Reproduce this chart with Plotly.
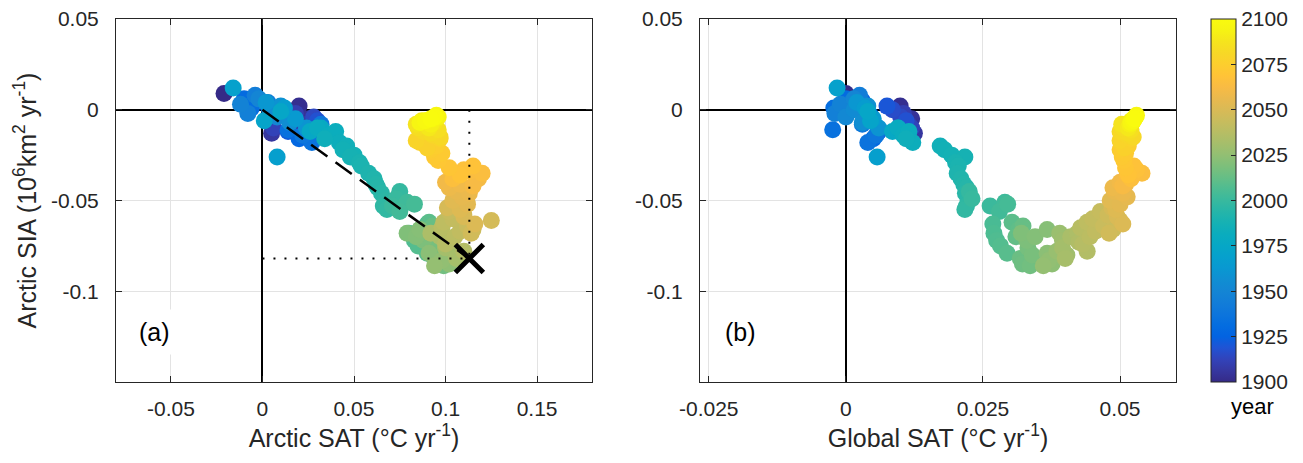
import plotly.graph_objects as go

# ---------------- data ----------------
years = [1900, 1902, 1904, 1906, 1908, 1910, 1912, 1914, 1916, 1918,
         1920, 1922, 1924, 1926, 1928, 1930, 1932, 1934, 1936, 1938,
         1940, 1942, 1944, 1946, 1948, 1950, 1952, 1954, 1956, 1958,
         1960, 1962, 1964, 1966, 1968, 1970, 1972, 1974, 1976, 1978,
         1980, 1981, 1982, 1983, 1984, 1985, 1986, 1987, 1988, 1989,
         1990, 1991, 1992, 1993, 1994, 1995, 1996, 1997, 1998, 1999,
         2000, 2001, 2002, 2003, 2004, 2005, 2006, 2007, 2008, 2009,
         2010, 2011, 2012, 2013, 2014, 2015, 2016, 2017, 2018, 2019,
         2020, 2021, 2022, 2023, 2024, 2025, 2026, 2027, 2028, 2029,
         2030, 2031, 2032, 2033, 2034, 2035, 2036, 2037, 2038, 2039,
         2040, 2041, 2042, 2043, 2044, 2045, 2046, 2047, 2048, 2049,
         2050, 2051, 2052, 2053, 2054, 2055, 2056, 2057, 2058, 2059,
         2060, 2061, 2062, 2063, 2064, 2065, 2066, 2067, 2068, 2069,
         2070, 2071, 2072, 2073, 2074, 2075, 2076, 2077, 2078, 2079,
         2080, 2081, 2082, 2083, 2084, 2085, 2086, 2087, 2088, 2089,
         2090, 2091, 2092, 2093, 2094, 2095, 2096, 2097, 2098, 2099,
         2100]

# Arctic sea-ice-area trend (10^6 km^2 / yr)
arctic_sia = [0.009, 0.002, -0.005, -0.013, -0.008, -0.002, -0.010, -0.004, 0.000, -0.006,
              0.002, -0.012, 0.005, -0.003, -0.016, 0.006, 0.001, -0.011, -0.018, -0.014,
              -0.008, 0.004, 0.008, -0.002, 0.003, 0.006, -0.004, 0.000, -0.007, 0.002,
              -0.010, 0.004, -0.005, 0.001, -0.026, 0.012, -0.006, -0.001, -0.012, -0.010,
              -0.010, -0.014, -0.012, -0.018, -0.016, -0.020, -0.022, -0.025, -0.026, -0.029,
              -0.031, -0.035, -0.038, -0.041, -0.043, -0.046, -0.050, -0.053, -0.055, -0.045,
              -0.049, -0.053, -0.051, -0.056, -0.052, -0.063, -0.068, -0.072, -0.075, -0.079,
              -0.062, -0.066, -0.070, -0.064, -0.082, -0.085, -0.086, -0.076, -0.080, -0.072,
              -0.068, -0.070, -0.066, -0.079, -0.085, -0.083, -0.086, -0.078, -0.068, -0.072,
              -0.080, -0.076, -0.082, -0.070, -0.068, -0.073, -0.078, -0.074, -0.065, -0.070,
              -0.062, -0.067, -0.060, -0.056, -0.064, -0.066, -0.058, -0.068, -0.061, -0.054,
              -0.059, -0.063, -0.055, -0.050, -0.052, -0.048, -0.045, -0.046, -0.043, -0.041,
              -0.040, -0.038, -0.042, -0.036, -0.034, -0.035, -0.038, -0.033, -0.031, -0.036,
              -0.032, -0.028, -0.026, -0.024, -0.022, -0.020, -0.018, -0.021, -0.016, -0.017,
              -0.014, -0.015, -0.012, -0.013, -0.010, -0.011, -0.009, -0.008, -0.007, -0.010,
              -0.006, -0.005, -0.008, -0.006, -0.004, -0.007, -0.005, -0.003, -0.006, -0.004,
              -0.005]

# Arctic surface-air-temperature trend (degC / yr)
arctic_sat = [-0.021, 0.020, 0.025, 0.005, 0.022, 0.018, 0.006, 0.028, 0.012, 0.030,
              0.003, 0.014, -0.008, 0.008, 0.020, -0.010, -0.006, 0.014, 0.027, 0.022,
              0.032, 0.003, -0.004, -0.008, -0.012, -0.002, 0.008, 0.004, 0.015, 0.010,
              0.024, 0.002, 0.018, 0.012, 0.008, -0.016, 0.001, 0.010, 0.026, 0.032,
              0.030, 0.036, 0.040, 0.042, 0.034, 0.046, 0.044, 0.050, 0.048, 0.053,
              0.054, 0.058, 0.061, 0.062, 0.063, 0.065, 0.067, 0.066, 0.068, 0.075,
              0.073, 0.071, 0.079, 0.075, 0.083, 0.090, 0.080, 0.083, 0.085, 0.090,
              0.091, 0.086, 0.089, 0.093, 0.094, 0.096, 0.099, 0.092, 0.097, 0.088,
              0.079, 0.084, 0.086, 0.091, 0.102, 0.098, 0.094, 0.104, 0.095, 0.100,
              0.108, 0.100, 0.106, 0.097, 0.092, 0.102, 0.110, 0.100, 0.098, 0.105,
              0.099, 0.108, 0.104, 0.102, 0.112, 0.115, 0.110, 0.114, 0.125, 0.101,
              0.110, 0.116, 0.108, 0.104, 0.112, 0.109, 0.106, 0.113, 0.102, 0.108,
              0.100, 0.118, 0.115, 0.106, 0.113, 0.120, 0.104, 0.110, 0.115, 0.108,
              0.102, 0.096, 0.094, 0.098, 0.092, 0.095, 0.086, 0.090, 0.097, 0.084,
              0.093, 0.097, 0.088, 0.092, 0.085, 0.096, 0.089, 0.084, 0.094, 0.091,
              0.087, 0.095, 0.092, 0.090, 0.096, 0.086, 0.093, 0.095, 0.089, 0.094,
              0.092]

# Global surface-air-temperature trend (degC / yr)
global_sat = [0.0000, 0.0099, 0.0120, 0.0125, 0.0115, 0.0105, 0.0120, 0.0100, 0.0085, 0.0110,
              0.0075, 0.0060, 0.0030, 0.0045, 0.0050, 0.0000, -0.0022, -0.0024, 0.0040, 0.0055,
              0.0030, 0.0010, 0.0025, -0.0020, -0.0010, 0.0015, 0.0000, 0.0015, 0.0030, 0.0040,
              0.0060, 0.0020, 0.0050, 0.0035, 0.0057, -0.0016, 0.0045, 0.0040, 0.0085, 0.0095,
              0.0095, 0.0105, 0.0115, 0.0122, 0.0110, 0.0172, 0.0180, 0.0193, 0.0217, 0.0200,
              0.0205, 0.0203, 0.0210, 0.0215, 0.0220, 0.0218, 0.0223, 0.0220, 0.0217, 0.0225,
              0.0230, 0.0263, 0.0290, 0.0280, 0.0295, 0.0268, 0.0270, 0.0275, 0.0282, 0.0294,
              0.0303, 0.0315, 0.0310, 0.0323, 0.0318, 0.0322, 0.0336, 0.0332, 0.0340, 0.0330,
              0.0320, 0.0345, 0.0367, 0.0367, 0.0376, 0.0370, 0.0360, 0.0385, 0.0390, 0.0395,
              0.0403, 0.0395, 0.0400, 0.0410, 0.0422, 0.0425, 0.0440, 0.0432, 0.0428, 0.0445,
              0.0440, 0.0455, 0.0450, 0.0464, 0.0470, 0.0487, 0.0478, 0.0480, 0.0500, 0.0485,
              0.0495, 0.0505, 0.0492, 0.0482, 0.0500, 0.0513, 0.0490, 0.0505, 0.0487, 0.0510,
              0.0500, 0.0515, 0.0505, 0.0513, 0.0525, 0.0540, 0.0520, 0.0530, 0.0525, 0.0515,
              0.0510, 0.0507, 0.0504, 0.0510, 0.0500, 0.0515, 0.0502, 0.0508, 0.0520, 0.0500,
              0.0512, 0.0524, 0.0500, 0.0515, 0.0505, 0.0520, 0.0512, 0.0503, 0.0522, 0.0515,
              0.0520, 0.0526, 0.0518, 0.0524, 0.0528, 0.0520, 0.0525, 0.0530, 0.0524, 0.0528,
              0.0526]

# regression line / end-point marker in panel (a)
fit_sat = [0.0, 0.113]
fit_sia = [0.0, -0.082]

# tick labels
xa_ticks = [-0.05, 0, 0.05, 0.1, 0.15]
xa_labels = ["-0.05", "0", "0.05", "0.1", "0.15"]
xb_ticks = [-0.025, 0, 0.025, 0.05]
xb_labels = ["-0.025", "0", "0.025", "0.05"]
y_ticks = [-0.1, -0.05, 0, 0.05]
y_labels = ["-0.1", "-0.05", "0", "0.05"]
cb_ticks = [1900, 1925, 1950, 1975, 2000, 2025, 2050, 2075, 2100]

# ---------------- style ----------------
W, H = 1303, 463
FONT = "Liberation Sans, Arial, Helvetica, sans-serif"
AX = "#262626"
GRID = "#e3e3e3"

# MATLAB parula colormap (sampled)
parula_rgb = [
    (0.2081, 0.1663, 0.5292), (0.2123, 0.2138, 0.6270), (0.1959, 0.2645, 0.7279),
    (0.1253, 0.3242, 0.8303), (0.0117, 0.3875, 0.8820), (0.0165, 0.4266, 0.8786),
    (0.0498, 0.4586, 0.8641), (0.0723, 0.4887, 0.8467), (0.0793, 0.5200, 0.8312),
    (0.0641, 0.5570, 0.8240), (0.0343, 0.5966, 0.8199), (0.0239, 0.6287, 0.8038),
    (0.0228, 0.6535, 0.7768), (0.0384, 0.6743, 0.7436), (0.0843, 0.6928, 0.7062),
    (0.1453, 0.7098, 0.6646), (0.2178, 0.7250, 0.6193), (0.3022, 0.7376, 0.5712),
    (0.3953, 0.7459, 0.5244), (0.4871, 0.7491, 0.4840), (0.5709, 0.7485, 0.4494),
    (0.6473, 0.7456, 0.4188), (0.7184, 0.7411, 0.3905), (0.7858, 0.7356, 0.3633),
    (0.8507, 0.7299, 0.3360), (0.9139, 0.7258, 0.3063), (0.9739, 0.7314, 0.2666),
    (0.9990, 0.7653, 0.2164), (0.9880, 0.8066, 0.1794), (0.9697, 0.8481, 0.1475),
    (0.9589, 0.8949, 0.1132), (0.9661, 0.9514, 0.0755), (0.9763, 0.9831, 0.0538),
]
n = len(parula_rgb)
parula = [[i / (n - 1), "rgb(%d,%d,%d)" % tuple(round(255 * c) for c in rgb)]
          for i, rgb in enumerate(parula_rgb)]

def px_x(p):
    return p / W

def px_y(p):
    return 1 - p / H

fig = go.Figure()

marker = dict(size=17, color=years, coloraxis="coloraxis", line=dict(width=0), opacity=1)

fig.add_trace(go.Scatter(x=arctic_sat, y=arctic_sia, mode="markers", marker=marker,
                         xaxis="x", yaxis="y", showlegend=False))
# dotted guides
fig.add_trace(go.Scatter(x=[fit_sat[0], fit_sat[1]], y=[fit_sia[1], fit_sia[1]], mode="lines",
                         line=dict(color="black", width=2, dash="2px,9px"),
                         xaxis="x", yaxis="y", showlegend=False))
fig.add_trace(go.Scatter(x=[fit_sat[1], fit_sat[1]], y=[fit_sia[0], fit_sia[1]], mode="lines",
                         line=dict(color="black", width=2, dash="2px,9px"),
                         xaxis="x", yaxis="y", showlegend=False))
# dashed regression line
fig.add_trace(go.Scatter(x=fit_sat, y=fit_sia, mode="lines",
                         line=dict(color="black", width=2.5, dash="20px,10px"),
                         xaxis="x", yaxis="y", showlegend=False))
# X marker
fig.add_trace(go.Scatter(x=[fit_sat[1]], y=[fit_sia[1]], mode="markers",
                         marker=dict(symbol="x-thin", size=28, line=dict(width=5, color="black")),
                         xaxis="x", yaxis="y", showlegend=False))

fig.add_trace(go.Scatter(x=global_sat, y=arctic_sia, mode="markers", marker=marker,
                         xaxis="x2", yaxis="y2", showlegend=False))

common_axis = dict(
    showline=True, linecolor=AX, linewidth=1, mirror="ticks",
    ticks="inside", ticklen=6, tickcolor=AX, tickwidth=1,
    showgrid=True, gridcolor=GRID, gridwidth=1,
    zeroline=True, zerolinecolor="black", zerolinewidth=2,
    tickfont=dict(family=FONT, size=21, color=AX),
    title_font=dict(family=FONT, size=25, color=AX),
    automargin=False,
)

fig.update_layout(
    width=W, height=H,
    margin=dict(l=0, r=0, t=0, b=0, autoexpand=False),
    paper_bgcolor="white", plot_bgcolor="white",
    font=dict(family=FONT, color=AX),
    xaxis=dict(common_axis, domain=[px_x(116), px_x(592)], range=[-0.08, 0.18],
               tickvals=xa_ticks, ticktext=xa_labels, anchor="y",
               ticklabelstandoff=8,
               title=dict(text="Arctic SAT (°C yr<sup>-1</sup>)", standoff=7)),
    yaxis=dict(common_axis, domain=[px_y(382), px_y(19)], range=[-0.15, 0.05],
               tickvals=y_ticks, ticktext=y_labels, anchor="x",
               ticklabelstandoff=12,
               title=dict(text="Arctic SIA (10<sup>6</sup>km<sup>2</sup> yr<sup>-1</sup>)", standoff=7)),
    xaxis2=dict(common_axis, domain=[px_x(700), px_x(1176)], range=[-0.0266, 0.0602],
                tickvals=xb_ticks, ticktext=xb_labels, anchor="y2",
                ticklabelstandoff=8,
                title=dict(text="Global SAT (°C yr<sup>-1</sup>)", standoff=7)),
    yaxis2=dict(common_axis, domain=[px_y(382), px_y(19)], range=[-0.15, 0.05],
                tickvals=y_ticks, ticktext=y_labels, anchor="x2",
                ticklabelstandoff=12),
    coloraxis=dict(
        colorscale=parula, cmin=1900, cmax=2100,
        colorbar=dict(
            x=px_x(1211), xanchor="left", xpad=0,
            y=px_y(19), yanchor="top", ypad=0,
            len=(382 - 19) / H, lenmode="fraction",
            thickness=25, thicknessmode="pixels",
            outlinewidth=1, outlinecolor=AX,
            ticks="inside", ticklen=5, tickcolor=AX,
            tickvals=cb_ticks,
            tickfont=dict(family=FONT, size=21, color=AX),
            title=dict(text="", side="right"),
        ),
    ),
    annotations=[
        dict(text="(a)", x=-0.059, y=-0.1225, xref="x", yref="y", showarrow=False,
             font=dict(family=FONT, size=25, color="black"), bgcolor="white",
             borderpad=8),
        dict(text="(b)", x=-0.0192, y=-0.1225, xref="x2", yref="y2", showarrow=False,
             font=dict(family=FONT, size=25, color="black"), bgcolor="white",
             borderpad=8),
        dict(text="year", x=px_x(1252), y=px_y(406), xref="paper", yref="paper",
             xanchor="center", yanchor="middle",
             showarrow=False, font=dict(family=FONT, size=22, color="black")),
    ],
)

fig.write_html("out.html")
